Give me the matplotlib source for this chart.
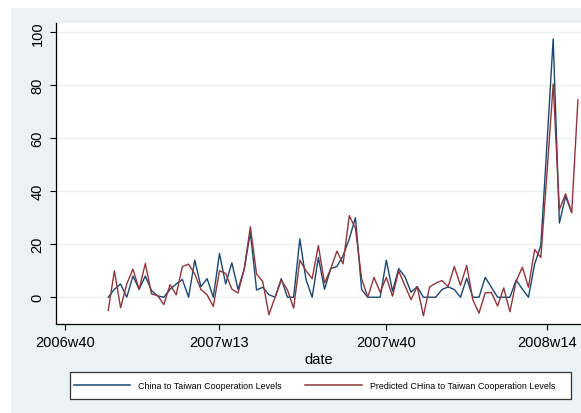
import numpy as np
import matplotlib
matplotlib.use("Agg")
import matplotlib.pyplot as plt
from matplotlib.patches import Rectangle
from matplotlib.lines import Line2D

plt.rcParams['font.family'] = ['Liberation Sans', 'DejaVu Sans']

# Weekly series, first observation in 2006w47
start_week = '2006w47'

actual = [0, 3, 5, 0, 8, 3, 8, 2.5, 0.5, 0,
          3, 5, 6.7, 0, 14, 4, 7, 0, 16.5, 5,
          13, 3, 10.5, 24.5, 2.75, 3.75, 1, 0, 7, 0,
          0, 22, 6.7, 0, 15, 3, 10.8, 11.6, 15.7, 22,
          30, 2.9, 0, 0, 0, 14, 2.3, 10.8, 7.8, 1.9,
          4, 0, 0, 0, 2.9, 3.9, 2.9, 0, 7.2, 0,
          0, 7.5, 3.8, 0, 0, 0, 6.5, 3.1, 0, 12.6,
          19.5, 58, 97.5, 28, 38, 32]

predicted = [-5, 10, -4, 5, 10.6, 2.9, 12.75, 1.25, 0.6, -2.75,
             4.75, 0.9, 11.6, 12.5, 8.75, 2.9, 0.9, -3.5, 10, 9,
             3.1, 1.6, 10.6, 26.6, 8.75, 5.9, -6.6, 0, 6.5, 2.75,
             -4.1, 14, 10, 7, 19.5, 5.4, 10.7, 17.4, 12.6, 30.8,
             26, 7, 0, 7.5, 1.9, 7.5, 0.4, 10, 4.4, -0.9,
             4, -7, 3.9, 5.3, 6.3, 4, 11.6, 4.5, 12, -1,
             -6, 1.7, 1.8, -3.3, 3.5, -5.5, 6, 11.3, 3.8, 18,
             15, 47, 80.5, 33, 39, 32, 74.5]

x_ticks = ['2006w40', '2007w13', '2007w40', '2008w14']
y_ticks = [0, 20, 40, 60, 80, 100]

series_labels = ['China to Taiwan Cooperation Levels',
                 'Predicted CHina to Taiwan Cooperation Levels']


def stata_week(s):
    # Stata %tw: 52 weeks per year counted from 1960w1
    year, week = s.split('w')
    return (int(year) - 1960) * 52 + int(week) - 1


t0 = stata_week(start_week)
t_actual = t0 + np.arange(len(actual))
t_pred = t0 + np.arange(len(predicted))

navy = '#1a476f'
maroon = '#90353b'
bg = '#eaf2f3'

fig = plt.figure(figsize=(5.81, 4.14), dpi=100)
fig.patch.set_facecolor('white')
fig.patches.append(Rectangle((11 / 581, 0), 1 - 11 / 581, 1 - 9 / 414,
                             transform=fig.transFigure, facecolor=bg,
                             edgecolor='none', zorder=-10))

ax = fig.add_axes([55.7 / 581, 1 - 325 / 414, 1 - 55.7 / 581, (325 - 24) / 414])
ax.set_facecolor('white')

ax.plot(t_actual, actual, color=navy, lw=1.0)
ax.plot(t_pred, predicted, color=maroon, lw=1.0)

ax.set_xlim(2429.5, 2514.5)
ax.set_ylim(-10.1, 103.5)

ax.set_xticks([stata_week(s) for s in x_ticks])
ax.set_xticklabels(x_ticks)
ax.set_yticks(y_ticks)
ax.set_yticklabels([str(v) for v in y_ticks], rotation=90, va='center')
ax.yaxis.grid(True, color=bg, lw=1.0)
ax.set_axisbelow(True)

for side in ['top', 'right']:
    ax.spines[side].set_visible(False)
for side in ['left', 'bottom']:
    ax.spines[side].set_color('black')
    ax.spines[side].set_linewidth(0.9)

ax.tick_params(axis='both', length=4, width=0.8, color='black',
               labelsize=10.5, pad=4)
ax.set_xlabel('date', fontsize=10.5, labelpad=2)

# legend box under the plot
fig.patches.append(Rectangle((70 / 581, 1 - 400 / 414), 501 / 581, 27 / 414,
                             transform=fig.transFigure, facecolor='white',
                             edgecolor='#333333', lw=0.9, zorder=1))
handles = [Line2D([], [], color=navy, lw=1.1),
           Line2D([], [], color=maroon, lw=1.1)]
fig.legend(handles, series_labels, loc='center', ncol=2, frameon=False,
           bbox_to_anchor=(314.5 / 581, 1 - 386.5 / 414),
           fontsize=6.4, handlelength=6.4, handletextpad=0.9,
           columnspacing=2.6, borderpad=0)

fig.savefig('out.png', dpi=100)
